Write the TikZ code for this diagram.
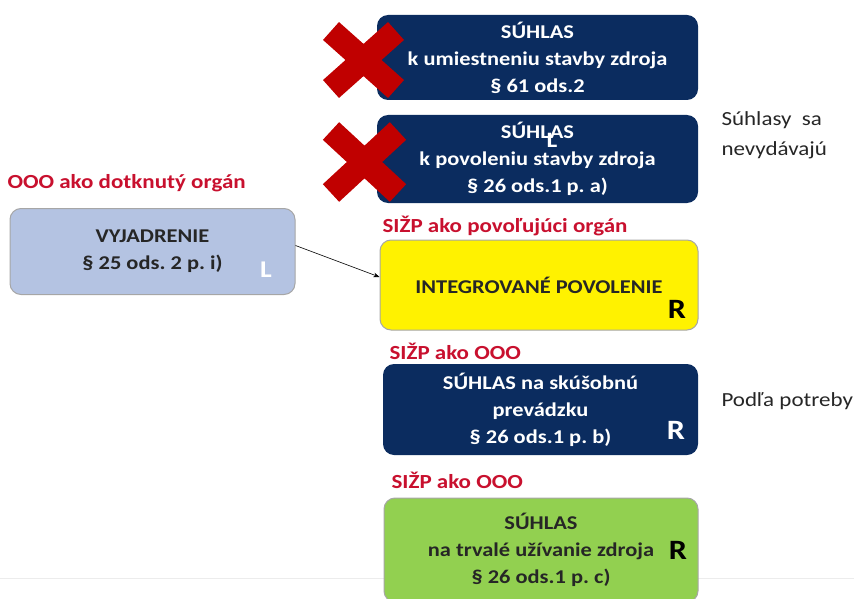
\documentclass[tikz,border=0pt]{standalone}
\usepackage{fontspec}
\setmainfont{Carlito}[FakeStretch=1.15]
\usetikzlibrary{arrows.meta}
\definecolor{navy}{HTML}{0B2C5F}
\definecolor{lblred}{HTML}{C8102E}
\definecolor{crossred}{HTML}{C00000}
\definecolor{paleblue}{HTML}{B4C3E2}
\definecolor{palegreen}{HTML}{92D050}
\definecolor{darktext}{HTML}{262626}
\frenchspacing
\tikzset{box/.style={rounded corners=11pt, align=center, inner sep=0pt,
         font=\fontsize{19.5}{27}\selectfont\bfseries},
         navybox/.style={box, fill=navy, text=white},
         lightbox/.style={box, draw=gray!70, line width=1pt, text=darktext},
         orglabel/.style={anchor=west, text=lblred, font=\fontsize{20}{22}\selectfont\bfseries},
         note/.style={anchor=west, align=left, text=darktext, font=\fontsize{20}{30}\selectfont},
         cornermark/.style={font=\fontsize{28}{28}\selectfont\bfseries},
         crossarm/.style={crossred, line width=24pt}}

\begin{document}
\begin{tikzpicture}[x=1pt,y=-1pt]
    \useasboundingbox (0,0) rectangle (854,599);
    \draw[gray!15] (0,578) -- (854,578);

    % zrusene suhlasy
    \node[navybox, minimum width=321, minimum height=85] (umiest) at (537.5,57.5)
      {SÚHLAS\\k umiestneniu stavby zdroja\\§ 61 ods.2};
    \node[navybox, minimum width=321, minimum height=88] (povol) at (537.5,159)
      {SÚHLAS\\k povoleniu stavby zdroja\\§ 26 ods.1 p. a)};
    \node[text=white, inner sep=0pt, font=\fontsize{22}{22}\selectfont\bfseries] (strayl) at (552,140) {L};
    \draw[crossarm] (331,31) -- (396,89) (331,89) -- (396,31);
    \draw[crossarm] (331,131) -- (398,193) (331,193) -- (398,131);
    \node[note] (nevyd) at (718,135) {Súhlasy~~sa\\nevydávajú};

    % dotknuty organ
    \node[orglabel] (ooolbl) at (4,183) {OOO ako dotknutý orgán};
    \node[lightbox, fill=paleblue, minimum width=285, minimum height=86] (vyjad) at (152.5,251.5)
      {VYJADRENIE\\§ 25 ods. 2 p. i)};
    \node[text=white, font=\fontsize{24}{24}\selectfont\bfseries] (vyjl) at (266,270) {L};

    % povolujuci organ
    \node[orglabel] (sizplbl) at (379,226) {SIŽP ako povoľujúci orgán};
    \node[lightbox, fill=yellow, minimum width=318, minimum height=90] (intpov) at (539,285)
      {INTEGROVANÉ POVOLENIE};
    \node[cornermark] (intr) at (677,309) {R};
    \draw[-{Stealth[length=6pt]}, semithick] ([yshift=6pt]vyjad.east) -- ([yshift=8pt]intpov.west);

    % skusobna prevadzka
    \node[orglabel] (ooolbla) at (386,351) {SIŽP ako OOO};
    \node[navybox, minimum width=315, minimum height=91] (skus) at (540.5,409.5)
      {SÚHLAS na skúšobnú\\prevádzku\\§ 26 ods.1 p. b)};
    \node[cornermark, text=white] (skusr) at (676,430) {R};
    \node[note] (potreby) at (718,401) {Podľa potreby};

    % trvale uzivanie
    \node[orglabel] (ooolblb) at (388,480) {SIŽP ako OOO};
    \node[lightbox, fill=palegreen, minimum width=314, minimum height=104] (trval) at (541,550)
      {SÚHLAS\\na trvalé užívanie zdroja\\§ 26 ods.1 p. c)};
    \node[cornermark] (trvalr) at (678,550) {R};
\end{tikzpicture}
\end{document}
